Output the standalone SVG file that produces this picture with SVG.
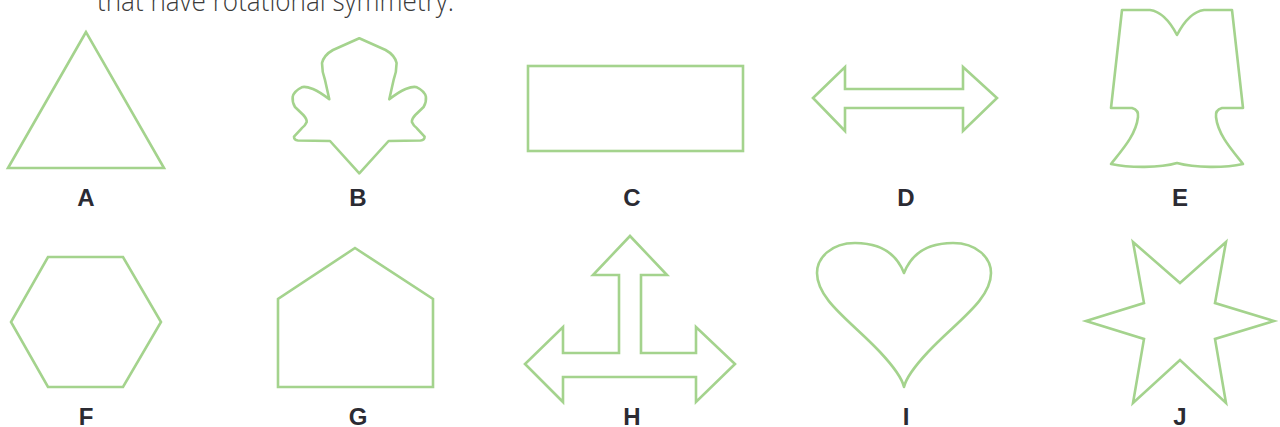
<svg xmlns="http://www.w3.org/2000/svg" width="1280" height="427" viewBox="0 0 1280 427">
<style>
.s{fill:none;stroke:#a4d38d;stroke-width:2.6;stroke-linejoin:miter}
.r{stroke-linejoin:round}
.l{font-family:"Liberation Sans",Arial,sans-serif;font-weight:bold;font-size:24px;fill:#2b2b33;text-anchor:middle}
.t{font-family:"Open Sans","Noto Sans",sans-serif;font-weight:300;font-size:30px;fill:#3a3a3a}
</style>
<rect width="1280" height="427" fill="#fff"/>
<text class="t" x="97" y="10.5" textLength="357" lengthAdjust="spacingAndGlyphs">that have rotational symmetry.</text>
<g id="A"><polygon class="s" points="86,32 8,168 164,168"/><text class="l" x="86" y="206">A</text></g>
<g id="B"><path class="s r" d="M359.3,38.3 L333,50 Q324,55 322,63 Q322,72 325,80 L329.3,99.3 Q320,92 313,89 Q305,86 301.7,87.3 Q294,91 292.7,96.7 Q292,102 295,107 L303.3,115 Q307,119 306.7,122 Q305,126 301.7,128.3 L294,136.7 Q294,140 298,140.5 L330,141 L359.3,173.3 L388.6,141 L420.6,140.5 Q424.6,140 424.6,136.7 L416.9,128.3 Q413.6,126 411.9,122 Q411.6,119 415.3,115 L423.6,107 Q426.6,102 425.9,96.7 Q424.6,91 416.9,87.3 Q413.6,86 405.6,89 Q398.6,92 389.3,99.3 L393.6,80 Q396.6,72 396.6,63 Q394.6,55 385.6,50 Z"/><text class="l" x="358" y="206">B</text></g>
<g id="C"><rect class="s" x="528" y="66" width="215" height="85"/><text class="l" x="632" y="206">C</text></g>
<g id="D"><polygon class="s" points="813,98 845,67 845,89 963,89 963,67 997,98 963,131 963,108 845,108 845,131"/><text class="l" x="906" y="206">D</text></g>
<g id="E"><path class="s r" d="M1122,10 L1150,10 Q1165,12 1177,35 Q1189,12 1204,10 L1232,10 L1243,108 L1222,108 Q1215,110 1216,117 C1218,135 1232,150 1243,164 C1225,168 1195,168 1177,163 C1160,168 1130,168 1111,164 C1122,150 1136,135 1138,117 Q1139,110 1132,108 L1111,108 Z"/><text class="l" x="1180" y="206">E</text></g>
<g id="F"><polygon class="s" points="48,257 123,257 161,322 123,387 48,387 11,322"/><text class="l" x="86" y="425">F</text></g>
<g id="G"><polygon class="s" points="355,248 433,299 433,387 278,387 278,299"/><text class="l" x="358" y="425">G</text></g>
<g id="H"><polygon class="s" points="630,236 667,275 641,275 641,353 696,353 696,327 735,364 696,402 696,377 563,377 563,402 525,364 563,327 563,353 619,353 619,275 593,275"/><text class="l" x="632" y="425">H</text></g>
<g id="I"><path class="s r" d="M904,273 C895,250 876,243 855,243 C831,243 817,258 817,273 C817,300 852,322 880,352 C894,367 902,378 904,387 C906,378 914,367 928,352 C956,322 991,300 991,273 C991,258 977,243 953,243 C932,243 913,250 904,273 Z"/><text class="l" x="906" y="425">I</text></g>
<g id="J"><polygon class="s" points="1133,242 1180,283 1226,242 1215,303 1274,321 1215,339 1226,403 1180,360 1133,403 1144,339 1086,321 1144,303"/><text class="l" x="1180" y="425">J</text></g>
</svg>
